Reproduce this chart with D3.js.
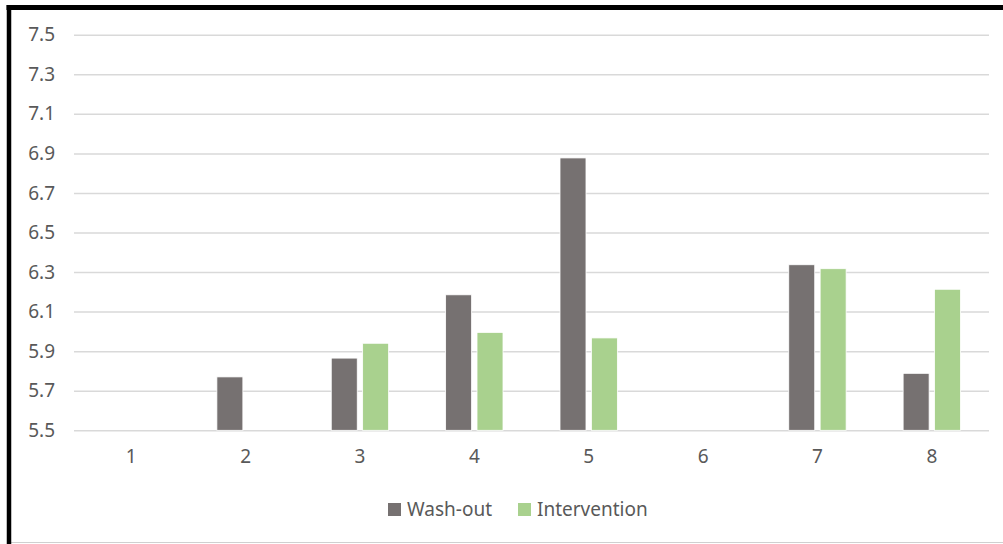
<!DOCTYPE html>
<html><head><meta charset="utf-8">
<script src="https://cdn.jsdelivr.net/npm/d3@7"></script>
<style>
html,body{margin:0;padding:0;background:#fff;}
svg{display:block;}
</style></head>
<body>
<svg id="chart" width="1003" height="544"></svg>
<script>
const categories = ["1","2","3","4","5","6","7","8"];
const seriesNames = ["Wash-out","Intervention"];
const washOut = [null, 5.77, 5.865, 6.185, 6.877, null, 6.337, 5.788];
const intervention = [null, null, 5.94, 5.995, 5.967, null, 6.317, 6.213];
const yTicks = [5.5, 5.7, 5.9, 6.1, 6.3, 6.5, 6.7, 6.9, 7.1, 7.3, 7.5];
const colors = ["#767171", "#A9D18E"];

(function(){
const svg = d3.select("#chart");
const W = 1003, H = 544;
const pLeft = 74, pRight = 989, pTop = 34.7, pBottom = 430.3;
const font = "'Noto Sans', sans-serif";

// border
svg.append("rect").attr("x",0).attr("y",0).attr("width",W).attr("height",H).attr("fill","#fff");
svg.append("line").attr("x1",9).attr("x2",W).attr("y1",542.5).attr("y2",542.5).attr("stroke","#d0d0d0").attr("stroke-width",1);
svg.append("line").attr("x1",6.5).attr("x2",W).attr("y1",7.5).attr("y2",7.5).attr("stroke","#000").attr("stroke-width",5);
svg.append("line").attr("x1",9).attr("x2",9).attr("y1",5).attr("y2",H).attr("stroke","#000").attr("stroke-width",4.5);

const x = d3.scaleBand().domain(categories).range([pLeft, pRight]).padding(0);
const xSub = d3.scaleBand().domain(seriesNames).range([0, x.bandwidth()]).paddingInner(0.172).paddingOuter(0.908);
const y = d3.scaleLinear().domain([5.5, 7.5]).range([pBottom, pTop]);

// grid
const yAxis = d3.axisLeft(y).tickValues(yTicks).tickSize(-(pRight-pLeft)).tickPadding(19).tickFormat(d3.format(".1f"));
const gy = svg.append("g").attr("transform",`translate(${pLeft},0)`).call(yAxis);
gy.select(".domain").remove();
gy.selectAll(".tick line").attr("stroke","#d9d9d9").attr("stroke-width",1.5);
gy.selectAll(".tick text").attr("fill","#595959").style("font-family",font).style("font-size","19px");

// bars
const data = [washOut, intervention];
seriesNames.forEach((s, si) => {
  svg.append("g").selectAll("rect")
    .data(categories.map((c,i)=>({c, v:data[si][i]})).filter(d=>d.v!=null))
    .join("rect")
    .attr("x", d => x(d.c) + xSub(s))
    .attr("width", xSub.bandwidth())
    .attr("y", d => y(d.v))
    .attr("height", d => y(5.5) - y(d.v))
    .attr("fill", colors[si])
    .attr("stroke", "#fff").attr("stroke-width", 0.8);
});

// x axis
const xAxis = d3.axisBottom(x).tickSize(0).tickPadding(19);
const gx = svg.append("g").attr("transform",`translate(0,${pBottom})`).call(xAxis);
gx.select(".domain").remove();
gx.selectAll(".tick text").attr("fill","#595959").style("font-family",font).style("font-size","19px");

// legend
const legendItems = [{name: seriesNames[0], color: colors[0], x: 388}, {name: seriesNames[1], color: colors[1], x: 518}];
const lg = svg.append("g");
legendItems.forEach(it => {
  lg.append("rect").attr("x", it.x).attr("y", 503).attr("width", 13).attr("height", 13).attr("fill", it.color);
  lg.append("text").attr("x", it.x + 19).attr("y", 509.5).attr("dy","0.35em")
    .attr("fill","#595959").style("font-family",font).style("font-size","19px").text(it.name);
});
})();
</script>
</body></html>
